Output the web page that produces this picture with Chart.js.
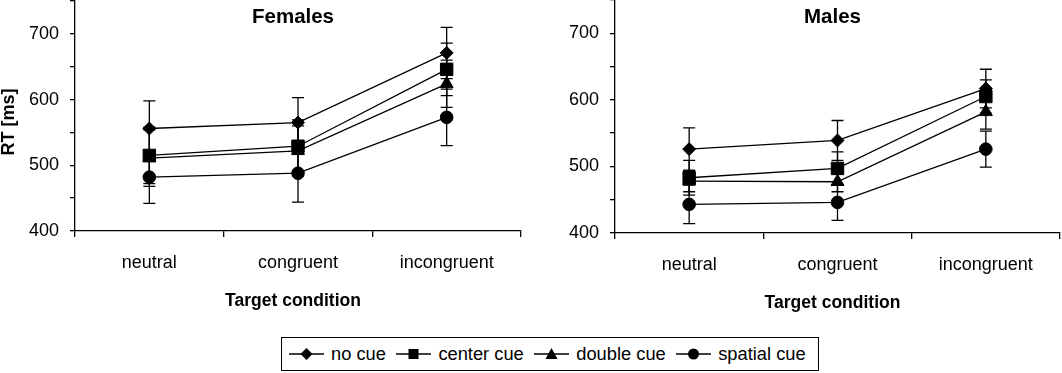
<!DOCTYPE html>
<html>
<head>
<meta charset="utf-8">
<script src="https://cdn.jsdelivr.net/npm/chart.js@4.4.0/dist/chart.umd.min.js"></script>
<style>
    body { margin: 0; background: #fff; width: 1062px; height: 373px; position: relative; overflow: hidden;
           font-family: "Liberation Sans", Arial, sans-serif; color: #000; }
    #cadreFemmes { position: absolute; left: 0; top: 0; width: 530px; height: 320px; }
    #cadreHommes { position: absolute; left: 530px; top: 0; width: 532px; height: 320px; }
    #legende { position: absolute; left: 281px; top: 337px; width: 538px; height: 34px; box-sizing: border-box;
               border: 1.5px solid #000; display: flex; align-items: center; padding-left: 7px; font-size: 18.3px; }
    #legende .item { display: flex; align-items: center; margin-right: 10.5px; }
    #legende svg { margin-right: 7px; }
</style>
</head>
<body>
<div id="cadreFemmes"><canvas id="graphFemmes" width="530" height="320"></canvas></div>
<div id="cadreHommes"><canvas id="graphHommes" width="532" height="320"></canvas></div>
<div id="legende"></div>

<script>
// Données (RT en ms)
const CONDITIONS = ['neutral', 'congruent', 'incongruent'];
const INDICES = ['no cue', 'center cue', 'double cue', 'spatial cue'];
const GRADUATIONS_Y = [400, 500, 600, 700];

const FEMMES_SANS_INDICE = [556, 565, 671];
const FEMMES_CENTRAL = [515, 529, 646];
const FEMMES_DOUBLE = [511, 522, 624];
const FEMMES_SPATIAL = [482, 488, 573];
const FEMMES_ERR_SANS_INDICE = [42, 38, 39];
const FEMMES_ERR_CENTRAL = [43, 40, 40];
const FEMMES_ERR_DOUBLE = [43, 38, 36];
const FEMMES_ERR_SPATIAL = [40, 44, 43];

const HOMMES_SANS_INDICE = [526, 539, 617];
const HOMMES_CENTRAL = [483, 497, 605];
const HOMMES_DOUBLE = [478, 477, 582];
const HOMMES_SPATIAL = [443, 446, 526];
const HOMMES_ERR_SANS_INDICE = [32, 30, 29];
const HOMMES_ERR_CENTRAL = [26, 25, 25];
const HOMMES_ERR_DOUBLE = [16, 15, 26];
const HOMMES_ERR_SPATIAL = [29, 27, 27];

const POLICE = '"Liberation Sans", Arial, sans-serif';
const FORMES = ['rectRot', 'rect', 'triangle', 'circle'];
const RAYONS = [6.5, 8.8, 7.5, 6.3];

// Barres d'erreur (moyenne +/- erreur) dessinées via les échelles
const pluginBarresErreur = {
    id: 'barresErreur',
    afterDatasetsDraw(chart) {
        const ctx = chart.ctx;
        const sx = chart.scales.x, sy = chart.scales.y;
        ctx.save();
        ctx.strokeStyle = '#000';
        ctx.lineWidth = 1.3;
        chart.data.datasets.forEach(ds => {
            ds.erreurs.forEach((e, j) => {
                const px = sx.getPixelForValue(j);
                const haut = sy.getPixelForValue(ds.data[j] + e);
                const bas = sy.getPixelForValue(ds.data[j] - e);
                ctx.beginPath();
                ctx.moveTo(px, haut); ctx.lineTo(px, bas);
                ctx.moveTo(px - 6, haut); ctx.lineTo(px + 6, haut);
                ctx.moveTo(px - 6, bas); ctx.lineTo(px + 6, bas);
                ctx.stroke();
            });
        });
        ctx.restore();
    }
};

// Titres du panneau et des axes
const pluginTextes = {
    id: 'textes',
    afterDraw(chart, args, opts) {
        const ctx = chart.ctx;
        const ca = chart.chartArea;
        const cx = (ca.left + ca.right) / 2 + opts.decalage;
        ctx.save();
        ctx.fillStyle = '#000';
        ctx.textAlign = 'center';
        ctx.textBaseline = 'middle';
        ctx.font = 'bold 20.5px ' + POLICE;
        ctx.fillText(opts.titre, cx, opts.yTitre);
        ctx.font = 'bold 17.5px ' + POLICE;
        ctx.fillText('Target condition', cx, opts.yTitreX);
        if (opts.titreY) {
            ctx.font = 'bold 18px ' + POLICE;
            ctx.translate(9, 122);
            ctx.rotate(-Math.PI / 2);
            ctx.fillText(opts.titreY, 0, 0);
        }
        ctx.restore();
    }
};

function creerGraphique(idCanvas, series, erreurs, opt) {
    const ctx = document.getElementById(idCanvas).getContext('2d');
    const datasets = series.map((valeurs, i) => ({
        label: INDICES[i],
        data: valeurs,
        erreurs: erreurs[i],
        borderColor: '#000',
        borderWidth: 1.3,
        backgroundColor: '#000',
        pointStyle: FORMES[i],
        pointRadius: RAYONS[i],
        pointBackgroundColor: '#000',
        pointBorderColor: '#000',
        pointBorderWidth: 1,
        fill: false,
        tension: 0
    }));

    return new Chart(ctx, {
        type: 'line',
        data: { labels: CONDITIONS, datasets: datasets },
        plugins: [pluginBarresErreur, pluginTextes],
        options: {
            responsive: false,
            animation: false,
            devicePixelRatio: 1,
            layout: { autoPadding: false, padding: { left: 0, top: opt.hautPad, right: opt.droitePad, bottom: 0 } },
            plugins: {
                legend: { display: false },
                tooltip: { enabled: false },
                textes: { titre: opt.titre, yTitre: 17, yTitreX: opt.yTitreX, decalage: -5, titreY: opt.titreY }
            },
            scales: {
                x: {
                    type: 'category',
                    offset: true,
                    grid: { offset: true, drawOnChartArea: false, drawTicks: true, tickLength: 6, color: '#000', lineWidth: 1.3 },
                    border: { color: '#000', width: 1.3 },
                    ticks: { color: '#000', padding: 15, maxRotation: 0, font: { family: POLICE, size: 18 } },
                    afterFit: s => { s.height = opt.hautX; s.paddingLeft = 0; s.paddingRight = 0; }
                },
                y: {
                    min: 400,
                    max: 750,
                    grid: { drawOnChartArea: false, tickLength: 5, color: '#000', lineWidth: 1.3 },
                    border: { color: '#000', width: 1.3 },
                    ticks: {
                        stepSize: 50,
                        color: '#000',
                        padding: 11,
                        font: { family: POLICE, size: 18 },
                        callback: v => GRADUATIONS_Y.includes(v) ? String(v) : ''
                    },
                    afterFit: s => { s.width = opt.largeurY; s.paddingTop = 0; s.paddingBottom = 0; }
                }
            }
        }
    });
}

creerGraphique('graphFemmes',
    [FEMMES_SANS_INDICE, FEMMES_CENTRAL, FEMMES_DOUBLE, FEMMES_SPATIAL],
    [FEMMES_ERR_SANS_INDICE, FEMMES_ERR_CENTRAL, FEMMES_ERR_DOUBLE, FEMMES_ERR_SPATIAL],
    { titre: 'Females', titreY: 'RT [ms]', largeurY: 75, hautPad: 1, droitePad: 9, hautX: 89, yTitreX: 301.5 });

creerGraphique('graphHommes',
    [HOMMES_SANS_INDICE, HOMMES_CENTRAL, HOMMES_DOUBLE, HOMMES_SPATIAL],
    [HOMMES_ERR_SANS_INDICE, HOMMES_ERR_CENTRAL, HOMMES_ERR_DOUBLE, HOMMES_ERR_SPATIAL],
    { titre: 'Males', titreY: null, largeurY: 85, hautPad: 0, droitePad: 2, hautX: 87, yTitreX: 303.5 });

// Légende commune (HTML)
function marqueurSvg(forme) {
    let m = '';
    if (forme === 'rectRot') m = '<polygon points="17.5,2 23.5,8 17.5,14 11.5,8" fill="#000"/>';
    else if (forme === 'rect') m = '<rect x="12.5" y="3" width="10" height="10" fill="#000"/>';
    else if (forme === 'triangle') m = '<polygon points="17.5,2 23.5,13 11.5,13" fill="#000"/>';
    else m = '<circle cx="17.5" cy="8" r="5.5" fill="#000"/>';
    return '<svg width="35" height="16"><line x1="0" y1="8" x2="35" y2="8" stroke="#000" stroke-width="1.3"/>' + m + '</svg>';
}

const legende = document.getElementById('legende');
INDICES.forEach((nom, i) => {
    const item = document.createElement('div');
    item.className = 'item';
    item.innerHTML = marqueurSvg(FORMES[i]) + '<span>' + nom + '</span>';
    legende.appendChild(item);
});
</script>
</body>
</html>
